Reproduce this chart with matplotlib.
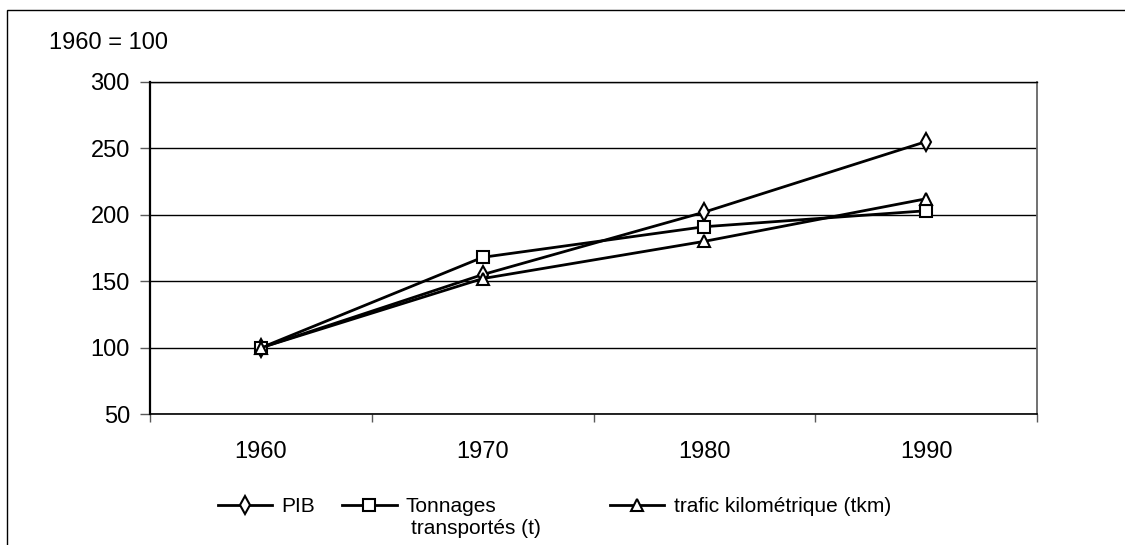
import matplotlib
matplotlib.use("Agg")
import matplotlib.pyplot as plt
from matplotlib.patches import Rectangle

plt.rcParams["font.family"] = ["Liberation Sans", "DejaVu Sans"]

# Indices, base 1960 = 100
years = ["1960", "1970", "1980", "1990"]
pib = [100, 155, 202, 255]
tonnages = [100, 168, 191, 203]
trafic = [100, 152, 180, 212]
yticks = [50, 100, 150, 200, 250, 300]

FS = 17
LEG_FS = 15

fig = plt.figure(figsize=(11.25, 5.45), dpi=100)
ax = fig.add_axes([150 / 1125, 1 - 414.3 / 545, 887 / 1125, 332.6 / 545])

x = range(len(years))
style = dict(color="black", lw=2, markerfacecolor="white",
             markeredgecolor="black", markeredgewidth=1.5)
l_pib, = ax.plot(x, pib, marker="d", markersize=9, **style)
l_ton, = ax.plot(x, tonnages, marker="s", markersize=8.5, **style)
l_tra, = ax.plot(x, trafic, marker="^", markersize=8.5, **style)

ax.set_xlim(-0.5, len(years) - 0.5)
ax.set_ylim(50, 300)
ax.set_yticks(yticks)
ax.set_yticklabels([str(v) for v in yticks], fontsize=FS)
ax.set_xticks(list(x))
ax.set_xticklabels(years, fontsize=FS)
# tick marks sit between the categories
ax.set_xticks([i - 0.5 for i in range(len(years) + 1)], minor=True)
ax.tick_params(axis="x", which="major", length=0, pad=19)
ax.tick_params(axis="x", which="minor", length=6, width=1, color="0.35")
ax.tick_params(axis="y", length=7, width=1, color="0.35", pad=7.5)

ax.grid(axis="y", color="black", lw=1)
ax.set_axisbelow(True)
ax.spines["left"].set_linewidth(1.6)
ax.spines["bottom"].set_linewidth(1.2)
ax.spines["top"].set_linewidth(1.0)
ax.spines["right"].set_linewidth(1.3)
ax.spines["right"].set_color("0.4")

fig.text(49 / 1125, 1 - 43 / 545, "1960 = 100", fontsize=FS, va="center", ha="left")

# outer chart frame (cut by the image edges)
fig.patches.append(Rectangle((7 / 1125, -0.2), 1.2, 1.2 - 10 / 545,
                             transform=fig.transFigure, fill=False,
                             edgecolor="black", lw=1))

leg_y = 1 - 507 / 545
common = dict(frameon=False, fontsize=LEG_FS, handlelength=2.6, handletextpad=0.45,
              borderpad=0, borderaxespad=0, loc="center left")
fig.legend([l_pib, l_ton], ["PIB", "Tonnages"], ncol=2, columnspacing=1.3,
           bbox_to_anchor=(218 / 1125, leg_y), **common)
fig.legend([l_tra], ["trafic kilométrique (tkm)"],
           bbox_to_anchor=(610 / 1125, leg_y), **common)
fig.text(411 / 1125, 1 - 529 / 545, "transportés (t)", fontsize=LEG_FS,
         va="center", ha="left")

fig.savefig("out.png", dpi=100)
